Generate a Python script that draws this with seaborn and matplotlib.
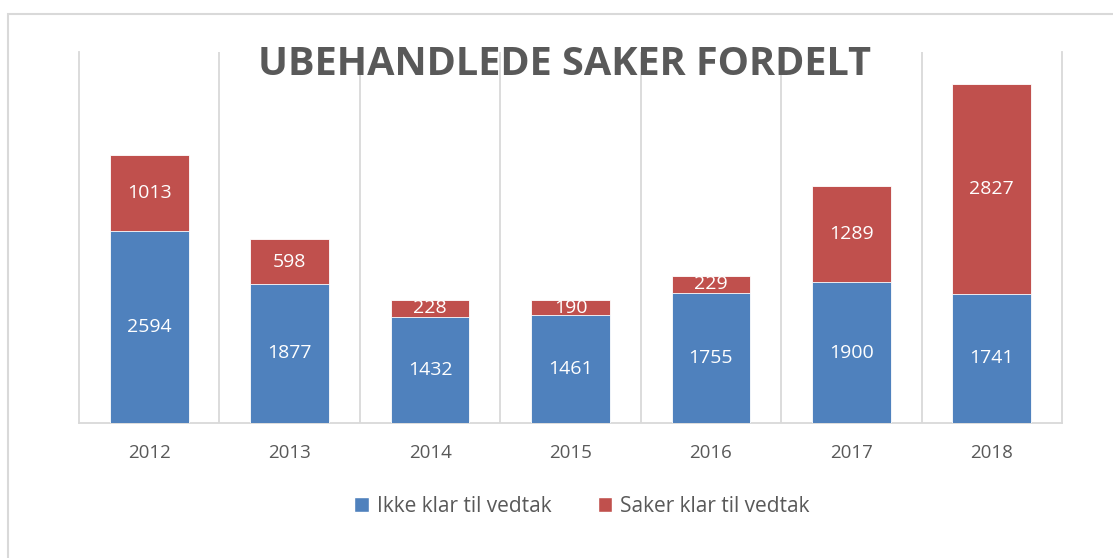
import matplotlib
matplotlib.use('Agg')
import matplotlib.pyplot as plt
import seaborn as sns
import pandas as pd
from matplotlib.patches import Patch, Rectangle

# data
years = ['2012', '2013', '2014', '2015', '2016', '2017', '2018']
ikke_klar = [2594, 1877, 1432, 1461, 1755, 1900, 1741]
klar = [1013, 598, 228, 190, 229, 1289, 2827]

blue = '#4F81BD'
red = '#C0504D'
grey_txt = '#595959'
grid_c = '#D9D9D9'

df = pd.DataFrame({'year': years, 'ikke': ikke_klar, 'klar': klar})
df['total'] = df['ikke'] + df['klar']

sns.set_style('white')
plt.rcParams['font.family'] = ['Open Sans', 'DejaVu Sans']

fig = plt.figure(figsize=(11.13, 5.58), dpi=100)
ax = fig.add_axes([79 / 1113, 1 - 423 / 558, (1062 - 79) / 1113, (423 - 52) / 558])

# outer chart border
fig.patches.append(Rectangle((8 / 1113, -0.1), 1.2, 1 - 14 / 558 + 0.1, transform=fig.transFigure,
                             fill=False, edgecolor='#D9D9D9', linewidth=1.5))

# stacked bars: total in red, then blue part on top of it
sns.barplot(data=df, x='year', y='total', color=red, width=0.56, saturation=1,
            edgecolor='white', linewidth=0.6, ax=ax, zorder=3)
sns.barplot(data=df, x='year', y='ikke', color=blue, width=0.56, saturation=1,
            edgecolor='white', linewidth=0.6, ax=ax, zorder=3)

for i, (a, b) in enumerate(zip(ikke_klar, klar)):
    ax.text(i, a / 2, str(a), ha='center', va='center', color='white', fontsize=14, zorder=5)
    ax.text(i, a + b / 2, str(b), ha='center', va='center', color='white', fontsize=14, zorder=5)

ax.set_xlim(-0.5, len(years) - 0.5)
ax.set_ylim(0, 5000)
ax.set_yticks([])
ax.set_xticks([i + 0.5 for i in range(len(years) - 1)], minor=True)
ax.grid(axis='x', which='minor', color=grid_c, linewidth=1.3, zorder=0)
ax.tick_params(axis='x', which='both', length=0, pad=15, labelsize=13.5, labelcolor=grey_txt)
ax.set_xlabel('')
ax.set_ylabel('')
ax.spines['top'].set_visible(False)
for s in ['left', 'right', 'bottom']:
    ax.spines[s].set_color(grid_c)
    ax.spines[s].set_linewidth(1.3)

fig.text(565 / 1113, 1 - 75 / 558, 'UBEHANDLEDE SAKER FORDELT', ha='center', va='baseline',
         fontsize=28.5, fontweight='bold', color=grey_txt)

handles = [Patch(facecolor=blue, label='Ikke klar til vedtak'),
           Patch(facecolor=red, label='Saker klar til vedtak')]
fig.legend(handles=handles, loc='center', bbox_to_anchor=(0.523, 1 - 506 / 558), ncol=2,
           frameon=False, fontsize=15, labelcolor=grey_txt, handlelength=0.7, handleheight=0.7,
           handletextpad=0.4, columnspacing=2.2)

fig.savefig('out.png', dpi=100)
